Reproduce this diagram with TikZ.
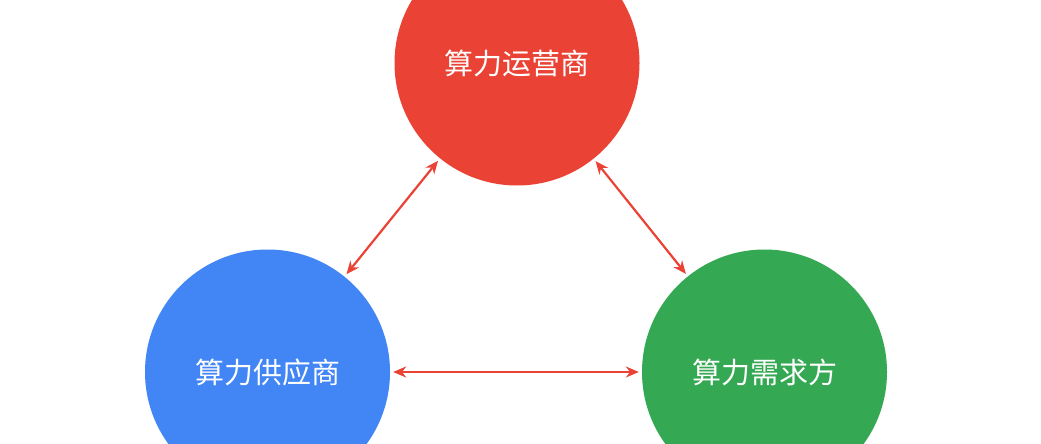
\documentclass[tikz,border=0pt]{standalone}
\usepackage{fontspec}
\setmainfont{Noto Sans CJK SC}
\usetikzlibrary{arrows.meta}
\definecolor{cred}{HTML}{EA4335}
\definecolor{cblue}{HTML}{4285F4}
\definecolor{cgreen}{HTML}{34A853}
\begin{document}
\begin{tikzpicture}[x=1pt,y=-1pt,
  ball/.style={circle,minimum size=245pt,inner sep=0pt,text=white,font=\fontsize{29}{34}\selectfont},
  link/.style={draw=cred,line width=2.2pt,{Stealth[length=13pt,width=11pt]}-{Stealth[length=13pt,width=11pt]},shorten <=3pt,shorten >=3pt}]
\useasboundingbox (0,0) rectangle (1041,444);
\clip (0,0) rectangle (1041,444);
\node[ball,fill=cred] (op) at (517,63) {算力运营商};
\node[ball,fill=cblue] (sup) at (267.5,372) {算力供应商};
\node[ball,fill=cgreen] (dem) at (764.5,372) {算力需求方};
\draw[link] (op) -- (sup);
\draw[link] (op) -- (dem);
\draw[link] (sup) -- (dem);
\end{tikzpicture}
\end{document}
